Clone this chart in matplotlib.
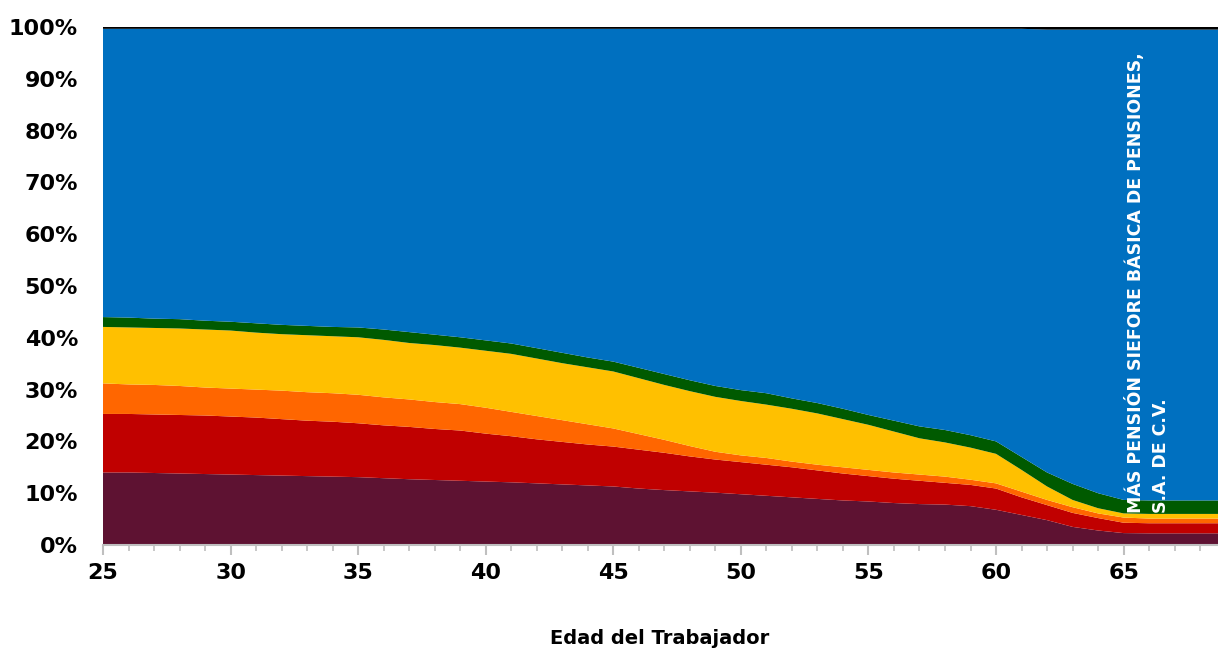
import matplotlib
matplotlib.use("Agg")
import matplotlib.pyplot as plt
import numpy as np
from matplotlib.ticker import MultipleLocator, FuncFormatter

ages = list(range(25, 70))

# cumulative tops (%)
maroon_top = [14.0, 14.0, 13.9, 13.8, 13.7, 13.6, 13.5, 13.4, 13.3, 13.2, 13.1, 12.9, 12.7, 12.55, 12.4,
              12.25, 12.1, 11.9, 11.7, 11.5, 11.3, 10.9, 10.6, 10.35, 10.1, 9.8, 9.5, 9.2, 8.9, 8.6,
              8.4, 8.1, 7.9, 7.8, 7.5, 6.8, 5.8, 4.8, 3.5, 2.8, 2.3, 2.25, 2.25, 2.25, 2.25]
red_top = [25.3, 25.3, 25.2, 25.1, 25.0, 24.8, 24.6, 24.3, 24.0, 23.8, 23.5, 23.1, 22.8, 22.4, 22.1,
           21.5, 21.0, 20.4, 19.9, 19.4, 19.0, 18.4, 17.8, 17.1, 16.5, 16.0, 15.5, 15.0, 14.4, 13.8,
           13.3, 12.8, 12.4, 12.0, 11.6, 10.9, 9.2, 7.7, 6.2, 5.2, 4.3, 4.2, 4.2, 4.2, 4.2]
orange_top = [31.2, 31.0, 30.9, 30.7, 30.4, 30.2, 30.0, 29.8, 29.5, 29.3, 29.0, 28.5, 28.1, 27.6, 27.2,
              26.5, 25.7, 24.9, 24.1, 23.3, 22.5, 21.4, 20.3, 19.1, 18.0, 17.3, 16.8, 16.1, 15.5, 15.0,
              14.5, 14.0, 13.6, 13.2, 12.6, 11.9, 10.3, 8.7, 7.3, 6.1, 5.3, 5.1, 5.1, 5.1, 5.1]
yellow_top = [42.1, 42.0, 41.9, 41.8, 41.6, 41.4, 41.0, 40.7, 40.5, 40.3, 40.1, 39.6, 39.0, 38.6, 38.1,
              37.5, 36.9, 36.0, 35.1, 34.3, 33.5, 32.2, 30.9, 29.7, 28.6, 27.8, 27.1, 26.3, 25.4, 24.3,
              23.2, 21.9, 20.6, 19.8, 18.8, 17.6, 14.5, 11.3, 8.7, 7.1, 6.1, 6.0, 6.0, 6.0, 6.0]
green_top = [44.0, 43.9, 43.7, 43.6, 43.3, 43.1, 42.8, 42.5, 42.3, 42.1, 42.0, 41.6, 41.1, 40.6, 40.1,
             39.5, 38.9, 38.0, 37.1, 36.2, 35.4, 34.2, 33.0, 31.8, 30.7, 29.9, 29.3, 28.3, 27.4, 26.3,
             25.1, 24.0, 22.9, 22.2, 21.2, 20.0, 17.0, 14.0, 11.8, 10.0, 8.7, 8.6, 8.6, 8.6, 8.6]
black_share = [0.35] * 37 + [0.5] * 8

label_text = "MÁS PENSIÓN SIEFORE BÁSICA DE PENSIONES,\nS.A. DE C.V."
x_label = "Edad del Trabajador"

colors = ["#5E1232", "#C00000", "#FF6600", "#FFC000", "#005A00", "#0070C0", "#000000"]

mt = np.array(maroon_top); rt = np.array(red_top); ot = np.array(orange_top)
yt = np.array(yellow_top); gt = np.array(green_top); bk = np.array(black_share)
layers = [mt, rt - mt, ot - rt, yt - ot, gt - yt, 100 - bk - gt, bk]

fig = plt.figure(figsize=(12.18, 6.52), dpi=100)
ax = fig.add_axes([103/1218, (652-545)/652, (1218-103)/1218, (545-27)/652])
ax.stackplot(ages, *layers, colors=colors, linewidth=0, antialiased=True)

ax.set_xlim(25, 68.7)
ax.set_ylim(0, 100)
ax.xaxis.set_major_locator(MultipleLocator(5))
ax.xaxis.set_minor_locator(MultipleLocator(1))
ax.yaxis.set_major_locator(MultipleLocator(10))
ax.yaxis.set_major_formatter(FuncFormatter(lambda v, p: f"{int(v)}%"))

for s in ["top", "right", "left"]:
    ax.spines[s].set_visible(False)
ax.spines["bottom"].set_color("#BFBFBF")
ax.spines["bottom"].set_linewidth(1.5)
ax.tick_params(axis="x", which="major", length=7, width=1.5, color="#BFBFBF", pad=6,
               labelsize=16)
ax.tick_params(axis="x", which="minor", length=4.5, width=1.2, color="#BFBFBF")
ax.tick_params(axis="y", length=0, pad=18, labelsize=16)
for lab in ax.get_xticklabels() + ax.get_yticklabels():
    lab.set_fontweight("bold")

fig.text(660/1218, 1 - 638/652, x_label, ha="center", va="center", fontsize=14,
         fontweight="bold")

ax.text(65.05, 6.2, label_text, rotation=90, color="white", fontsize=12.5, fontweight="bold",
        ha="left", va="bottom", linespacing=1.5)

fig.savefig("out.png", dpi=100)
